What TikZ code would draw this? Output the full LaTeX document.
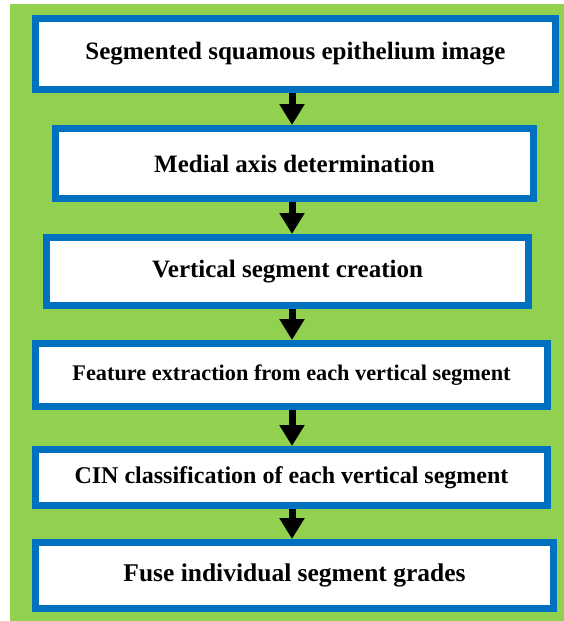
\documentclass[tikz,border=0pt]{standalone}
\usepackage{fontspec}
\setmainfont{Liberation Serif}
\usetikzlibrary{arrows.meta}
\definecolor{bggreen}{RGB}{146,208,80}
\definecolor{boxblue}{RGB}{0,112,192}
\begin{document}
\begin{tikzpicture}[x=1pt,y=-1pt,
  stepbox/.style={draw=boxblue,fill=white,line width=7pt,inner sep=0pt,font=\bfseries\fontsize{25}{29}\selectfont},
  flowarrow/.style={line width=7pt,-{Triangle[width=24pt,length=21pt]}}]
\useasboundingbox (0,0) rectangle (564,621);
\fill[white] (0,0) rectangle (564,621);
\fill[bggreen] (10,4) rectangle (564,621);
\node[stepbox,minimum width=520pt,minimum height=71pt] (b1) at (295.5,54) {Segmented squamous epithelium image};
\node[stepbox,minimum width=478pt,minimum height=70pt] (b2) at (294.5,163.5) {Medial axis determination};
\node[stepbox,minimum width=482pt,minimum height=68pt] (b3) at (287.5,271.5) {Vertical segment creation};
\node[stepbox,minimum width=512pt,minimum height=63pt,font=\bfseries\fontsize{22.3}{26}\selectfont] (b4) at (291.5,375) {Feature extraction from each vertical segment};
\node[stepbox,minimum width=512pt,minimum height=56pt,font=\bfseries\fontsize{24}{28}\selectfont] (b5) at (291.5,477.5) {CIN classification of each vertical segment};
\node[stepbox,minimum width=518pt,minimum height=66pt,font=\bfseries\fontsize{25.5}{29}\selectfont] (b6) at (294.5,575.5) {Fuse individual segment grades};
\coordinate (ax) at (292,0);
\draw[flowarrow] (b1.south -| ax) -- (b2.north -| ax);
\draw[flowarrow] (b2.south -| ax) -- (b3.north -| ax);
\draw[flowarrow] (b3.south -| ax) -- (b4.north -| ax);
\draw[flowarrow] (b4.south -| ax) -- (b5.north -| ax);
\draw[flowarrow] (b5.south -| ax) -- (b6.north -| ax);
\end{tikzpicture}
\end{document}
